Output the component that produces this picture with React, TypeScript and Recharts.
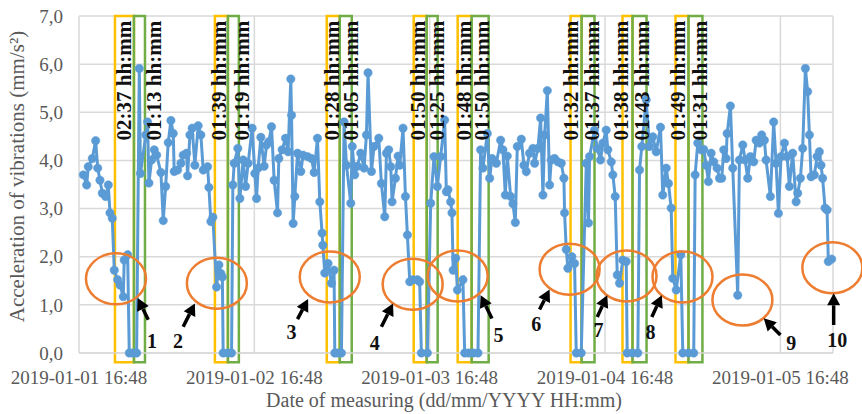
import {
  LineChart,
  Line,
  XAxis,
  YAxis,
  CartesianGrid,
  ReferenceArea,
  ReferenceDot,
} from "recharts"

const FONT = '"Liberation Serif", "Times New Roman", serif'
const GRAY = "#595959"
const BLUE = "#5b9bd5"
const YELLOW = "#ffc000"
const GREEN = "#70ad47"
const ORANGE = "#ed7d31"

// x = hours since 2019-01-01 16:48
const measureHours = [
  0.59, 1.05, 1.27, 1.82, 2.28, 2.56, 2.87, 3.19, 3.65, 4.01,
  4.24, 4.55, 4.83, 5.29, 5.61, 6.06, 6.19, 6.66, 6.88, 7.38,
  7.89, 8.25, 8.41, 9.15, 9.39, 9.57, 9.94, 10.3, 10.63, 11.21,
  11.53, 11.86, 12.21, 12.58, 12.9, 13.03, 13.5, 13.95, 14.26, 14.73,
  14.86, 15.18, 15.49, 15.86, 16.31, 16.68, 17.0, 17.6, 17.78, 18.05,
  18.32, 18.83, 19.15, 19.42, 19.62, 19.73, 20.38, 20.88, 21.06, 21.24,
  21.74, 22.02, 22.47, 22.8, 23.15, 23.7, 24.07, 24.3, 24.52, 24.89,
  25.34, 25.67, 25.98, 26.35, 26.71, 27.17, 27.35, 27.8, 28.27, 28.62,
  28.99, 29.09, 29.31, 29.54, 29.91, 30.36, 30.67, 31.27, 31.82, 32.18,
  32.64, 32.96, 33.27, 33.37, 33.64, 34.09, 34.56, 34.91, 35.01, 35.46,
  35.92, 36.28, 36.61, 37.2, 37.4, 37.74, 38.11, 38.56, 39.02, 39.34,
  39.56, 40.03, 40.38, 41.03, 41.39, 41.85, 42.08, 42.39, 42.67, 42.85,
  43.31, 43.67, 43.9, 44.35, 44.68, 44.95, 45.27, 45.72, 46.32, 46.63,
  46.86, 47.68, 48.14, 48.59, 49.05, 49.5, 50.05, 50.28, 50.5, 50.87,
  51.05, 51.21, 51.56, 51.79, 52.55, 52.79, 53.33, 53.95, 54.61, 54.97,
  55.29, 55.89, 56.21, 56.52, 57.12, 57.71, 58.02, 58.35, 58.62, 59.08,
  59.39, 59.72, 59.99, 60.54, 60.9, 61.22, 61.67, 62.13, 62.36, 62.81,
  63.18, 63.5, 63.73, 64.1, 64.41, 64.64, 65.09, 65.55, 66.01, 66.37,
  66.46, 66.69, 66.91, 67.46, 67.83, 68.06, 68.74, 69.43, 69.74, 69.88,
  70.56, 70.93, 71.38, 71.7, 72.16, 72.38, 72.85, 73.07, 73.39, 73.67,
  73.98, 74.43, 74.9, 75.03, 75.76, 76.49, 76.72, 77.03, 77.63, 78.08,
  78.54, 79.0, 79.59, 79.9, 80.37, 80.68, 81.05, 81.27, 81.74, 82.37,
  82.64, 83.42, 84.14, 84.33, 84.69, 85.16, 85.51, 85.84, 86.15, 86.52,
  86.88, 87.34, 87.66, 87.97, 88.25, 88.57, 88.71, 89.16, 89.48, 90.16,
  90.39, 90.85, 91.17, 91.53, 91.9, 92.35, 92.68, 93.13, 93.44, 93.81,
  94.04, 94.63, 95.08, 95.41, 95.73, 96.09, 96.55, 96.92, 97.23, 97.68,
  98.15, 98.37, 98.74, 99.05, 99.42, 99.73, 99.97, 100.2, 100.65, 101.02,
  101.33, 101.56, 101.78, 102.11, 102.39, 102.56, 103.02,
]

// acceleration of vibrations, mm/s²
const acceleration = [
  3.7, 3.49, 3.87, 4.04, 4.41, 3.84, 3.59, 3.32, 3.25, 3.49,
  2.91, 2.8, 1.72, 1.52, 1.41, 1.17, 1.93, 2.04, 0, 0,
  0, 5.91, 3.73, 4.53, 4.8, 3.53, 4.01, 4.22, 4.11, 3.75,
  2.75, 3.46, 4.37, 4.83, 4.56, 3.77, 3.8, 3.94, 4.11, 4.15,
  3.68, 4.53, 4.67, 3.9, 4.72, 4.53, 3.8, 3.87, 3.44, 2.73,
  2.82, 1.37, 1.83, 1.65, 1.58, 0, 0, 0, 3.49, 3.94,
  4.25, 3.21, 4.01, 3.46, 3.94, 4.67, 3.73, 3.21, 3.84, 4.48,
  3.88, 4.32, 4.39, 4.7, 3.59, 2.91, 4.04, 4.22, 4.46, 4.18,
  5.69, 4.94, 2.69, 3.25, 4.15, 3.77, 4.11, 4.08, 4.04, 3.75,
  4.46, 3.14, 2.49, 2.24, 1.66, 1.86, 1.45, 1.72, 0, 0,
  0, 4.8, 3.9, 3.11, 4.29, 3.7, 3.88, 4.15, 3.84, 4.53,
  5.82, 3.77, 4.29, 4.46, 3.52, 2.83, 4.15, 4.22, 3.87, 3.14,
  3.63, 4.09, 3.9, 4.67, 3.25, 2.45, 1.48, 1.52, 1.52, 1.48,
  0, 0, 3.11, 4.08, 3.46, 4.08, 4.84, 3.35, 3.39, 3.14,
  2.91, 1.72, 1.97, 1.31, 1.52, 0, 0, 0, 0, 4.22,
  3.84, 4.56, 3.63, 4.04, 3.94, 4.42, 4.22, 3.28, 4.09, 3.25,
  3.1, 2.71, 4.29, 4.44, 3.9, 3.77, 4.15, 4.25, 3.94, 4.25,
  4.88, 3.28, 4.53, 5.45, 3.49, 4.01, 4.04, 3.97, 3.94, 3.63,
  2.91, 2.15, 1.76, 2.0, 1.86, 0, 0, 3.94, 2.7, 4.08,
  4.63, 4.25, 4.01, 4.36, 4.63, 4.22, 3.97, 3.7, 3.25, 1.62,
  1.45, 1.93, 1.9, 0, 0, 0, 3.8, 4.29, 5.26, 4.29,
  4.49, 4.18, 4.69, 3.28, 3.84, 3.52, 3.01, 1.55, 1.31, 2.04,
  0, 0, 0, 3.7, 4.36, 4.22, 4.23, 3.9, 3.56, 4.15,
  3.97, 3.84, 3.63, 3.63, 4.22, 4.04, 4.56, 5.13, 3.84, 1.2,
  4.01, 4.32, 4.01, 3.63, 4.08, 3.97, 4.42, 4.36, 4.53, 4.42,
  4.01, 3.25, 4.8, 3.94, 2.9, 4.08, 4.36, 4.08, 3.46, 4.15,
  3.14, 3.32, 3.63, 4.25, 5.91, 5.43, 4.53, 3.66, 3.7, 4.08,
  4.18, 3.9, 3.63, 3.01, 2.97, 1.9, 1.95,
]

const dayTicks = [0, 24, 48, 72, 96]
const dayTickLabels = [
  "2019-01-01 16:48",
  "2019-01-02 16:48",
  "2019-01-03 16:48",
  "2019-01-04 16:48",
  "2019-01-05 16:48",
]
const yTicks = [0, 1, 2, 3, 4, 5, 6, 7]

// stop windows (hours): yellow = first window, green = second window
const yellowFrom = [4.92, 18.6, 33.91, 45.81, 51.83, 67.28, 74.39, 81.64]
const yellowTo = [7.52, 20.38, 35.69, 47.59, 53.74, 68.79, 75.76, 83.42]
const greenTo = [9.03, 21.88, 37.33, 49.09, 56.07, 70.56, 77.68, 85.33]
const yellowDur = ["02:37", "01:39", "01:28", "01:50", "01:48", "01:32", "01:38", "01:49"]
const greenDur = ["01:13", "01:19", "01:05", "01:25", "01:50", "01:37", "01:43", "01:31"]
const yellowLabelAt = [6.15, 19.15, 34.67, 46.36, 52.65, 67.38, 74.21, 82.05]
const greenLabelAt = [10.32, 22.36, 37.26, 49.03, 55.18, 70.22, 77.06, 84.99]

// circled events and their arrows
const circleX = [5.06, 18.87, 34.32, 45.67, 51.83, 67.15, 74.94, 82.6, 90.8, 103.11]
const circleY = [1.54, 1.45, 1.58, 1.43, 1.6, 1.74, 1.6, 1.58, 1.1, 1.77]
const arrowX = [8.03, 15.86, 31.36, 42.98, 54.97, 64.41, 72.3, 79.77, 93.72, 103.29]
const arrowY = [1.14, 1.03, 1.12, 1.03, 1.2, 1.32, 1.2, 1.2, 0.72, 1.24]
const arrowText = ["1", "2", "3", "4", "5", "6", "7", "8", "9", "10"]

// arrow geometry in px, relative to the arrow tip
const arrowTail = [
  [10.6, 21.7], [-11.7, 23.4], [-10.6, 20], [-11.6, 23.4], [11.3, 23.3],
  [-10, 20], [-10, 21.7], [-10, 21.7], [16.7, 16.7], [0, 31.7],
]
const arrowLabel = [
  [14.3, 42.7], [-17, 37.7], [-16.6, 33.4], [-18.3, 39.4], [18, 40],
  [-13.3, 34.7], [-8.7, 35], [-11.3, 36.7], [27.4, 24.4], [3.7, 46.7],
]

const rows = measureHours.map((t, i) => ({ t, a: acceleration[i] }))

const fmtY = (v: number) => v.toFixed(1).replace(".", ",")
const fmtX = (v: number) => dayTickLabels[dayTicks.indexOf(v)] ?? ""

function YTitle({ viewBox }: any) {
  const x = viewBox.x + 5
  const y = viewBox.y + viewBox.height / 2 - 8
  return (
    <text
      x={x}
      y={y}
      transform={`rotate(-90 ${x} ${y})`}
      textAnchor="middle"
      fontFamily={FONT}
      fontSize={21}
      fill={GRAY}
    >
      Acceleration of vibrations (mm/s²)
    </text>
  )
}

function XTitle({ viewBox }: any) {
  const x = viewBox.x + viewBox.width / 2 - 12
  const y = viewBox.y + viewBox.height + 24
  return (
    <text x={x} y={y} textAnchor="middle" fontFamily={FONT} fontSize={20} fill={GRAY}>
      Date of measuring (dd/mm/YYYY HH:mm)
    </text>
  )
}

const durationShape = (txt: string) => (p: any) => (
  <text
    x={p.cx}
    y={p.cy}
    transform={`rotate(-90 ${p.cx} ${p.cy})`}
    textAnchor="end"
    dominantBaseline="central"
    fontFamily={FONT}
    fontWeight="bold"
    fontSize={21}
    fill="#111"
  >
    {txt} hh:mm
  </text>
)

const ellipseShape = (p: any) => (
  <ellipse cx={p.cx} cy={p.cy} rx={30} ry={25.5} fill="none" stroke={ORANGE} strokeWidth={2.5} />
)

const arrowShape = (i: number) => (p: any) => {
  const [tx, ty] = arrowTail[i]
  const [lx, ly] = arrowLabel[i]
  const len = Math.hypot(tx, ty)
  const ux = -tx / len
  const uy = -ty / len
  const bx = p.cx - ux * 12
  const by = p.cy - uy * 12
  const px = -uy * 6.5
  const py = ux * 6.5
  return (
    <g>
      <line x1={p.cx + tx} y1={p.cy + ty} x2={bx} y2={by} stroke="#000" strokeWidth={3.5} />
      <polygon
        points={`${p.cx},${p.cy} ${bx + px},${by + py} ${bx - px},${by - py}`}
        fill="#000"
      />
      <text
        x={p.cx + lx}
        y={p.cy + ly}
        textAnchor="middle"
        dominantBaseline="central"
        fontFamily={FONT}
        fontWeight="bold"
        fontSize={20}
        fill="#111"
      >
        {arrowText[i]}
      </text>
    </g>
  )
}

export default function App() {
  return (
    <div style={{ position: "absolute", left: 0, top: 0, width: 862, height: 414, background: "#fff" }}>
      <LineChart
        width={862}
        height={414}
        data={rows}
        margin={{ top: 16, right: 29, bottom: 31, left: 19 }}
      >
        <CartesianGrid stroke="#d9d9d9" strokeWidth={1.5} />
        <XAxis
          dataKey="t"
          type="number"
          domain={[0, 103.2]}
          ticks={dayTicks}
          tickFormatter={fmtX}
          interval={0}
          height={30}
          tickSize={0}
          tickMargin={18}
          tickLine={false}
          axisLine={{ stroke: "#d9d9d9", strokeWidth: 1.5 }}
          tick={{ fontFamily: FONT, fontSize: 19, fill: GRAY }}
          label={<XTitle />}
        />
        <YAxis
          domain={[0, 7]}
          ticks={yTicks}
          tickFormatter={fmtY}
          width={60}
          tickSize={0}
          tickMargin={16}
          tickLine={false}
          axisLine={false}
          tick={{ fontFamily: FONT, fontSize: 19, fill: GRAY }}
          label={<YTitle />}
        />
        <Line
          dataKey="a"
          type="linear"
          stroke={BLUE}
          strokeWidth={3}
          dot={{ r: 4.2, fill: BLUE, stroke: BLUE, strokeWidth: 0.5 }}
          isAnimationActive={false}
        />
        {yellowFrom.map((x1, i) => (
          <ReferenceArea
            key={`y${i}`}
            x1={x1}
            x2={yellowTo[i]}
            y1={-0.19}
            y2={7}
            ifOverflow="visible"
            fill="none"
            fillOpacity={0}
            stroke={YELLOW}
            strokeWidth={2.5}
          />
        ))}
        {yellowTo.map((x1, i) => (
          <ReferenceArea
            key={`g${i}`}
            x1={x1}
            x2={greenTo[i]}
            y1={-0.19}
            y2={7}
            ifOverflow="visible"
            fill="none"
            fillOpacity={0}
            stroke={GREEN}
            strokeWidth={2.5}
          />
        ))}
        {circleX.map((x, i) => (
          <ReferenceDot key={`c${i}`} x={x} y={circleY[i]} r={0} ifOverflow="visible" shape={ellipseShape} />
        ))}
        {arrowX.map((x, i) => (
          <ReferenceDot key={`a${i}`} x={x} y={arrowY[i]} r={0} ifOverflow="visible" shape={arrowShape(i)} />
        ))}
        {yellowLabelAt.map((x, i) => (
          <ReferenceDot key={`yl${i}`} x={x} y={6.9} r={0} ifOverflow="visible" shape={durationShape(yellowDur[i])} />
        ))}
        {greenLabelAt.map((x, i) => (
          <ReferenceDot key={`gl${i}`} x={x} y={6.9} r={0} ifOverflow="visible" shape={durationShape(greenDur[i])} />
        ))}
      </LineChart>
    </div>
  )
}
